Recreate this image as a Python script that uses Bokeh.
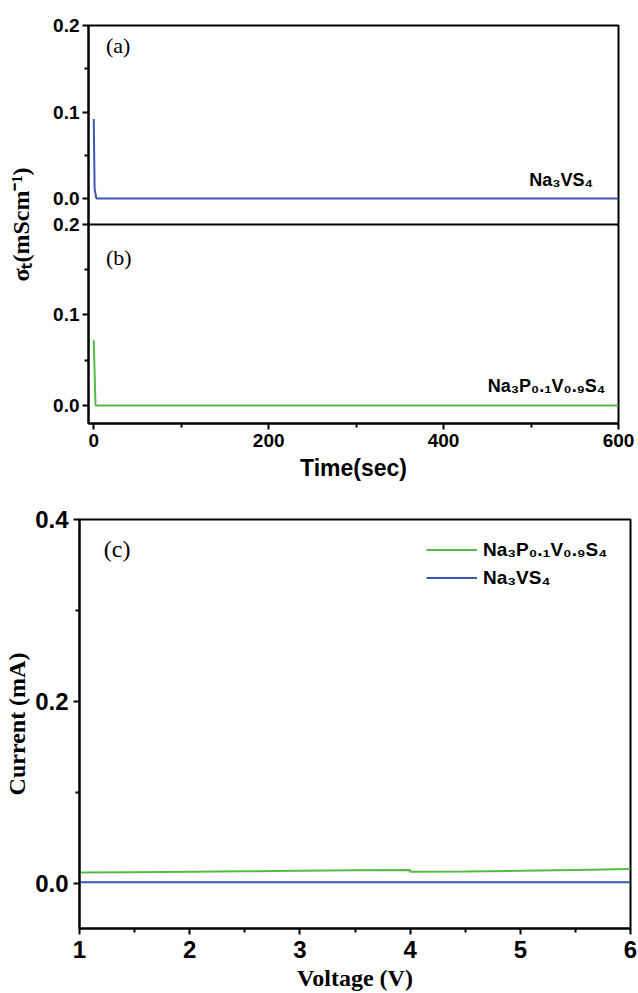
from bokeh.plotting import figure
from bokeh.models import (Range1d, FixedTicker, Span, Label, Legend,
                          LegendItem, PrintfTickFormatter)
from bokeh.layouts import column, row
from bokeh.embed import file_html
from bokeh.resources import INLINE

# ---- data -------------------------------------------------------------
# (a) transient conductivity of Na3VS4
time_a = [0, 1, 3, 600]
sigma_a = [0.092, 0.011, 0.0, 0.0]
# (b) transient conductivity of Na3P0.1V0.9S4
time_b = [0, 2, 600]
sigma_b = [0.072, 0.0, 0.0]
# (c) DC polarisation current vs voltage
volt_p = [1.0, 1.5, 2.0, 2.5, 3.0, 3.5, 4.0, 4.0, 4.5, 5.0, 5.5, 6.0]
curr_p = [0.0115, 0.0120, 0.0125, 0.0130, 0.0135, 0.0140, 0.0143, 0.0124,
          0.0128, 0.0135, 0.0145, 0.0154]
volt_v = [1.0, 2.0, 3.0, 4.0, 5.0, 6.0]
curr_v = [0.001, 0.001, 0.001, 0.001, 0.001, 0.001]

time_ticks = [0, 200, 400, 600]
time_minor = [100, 300, 500]
sigma_ticks = [0.0, 0.1, 0.2]
sigma_minor = [0.05, 0.15]
volt_ticks = [1, 2, 3, 4, 5, 6]
volt_minor = [1.5, 2.5, 3.5, 4.5, 5.5]
curr_ticks = [0.0, 0.2, 0.4]
curr_minor = [0.1, 0.3]

label_a = "Na₃VS₄"
label_b = "Na₃P₀.₁V₀.₉S₄"

BLUE = "#3d56b4"
GREEN = "#55bb46"
SANS = "Liberation Sans"
SERIF = "Liberation Serif"


def style_axes(p, tick_size):
    p.xgrid.visible = False
    p.ygrid.visible = False
    p.outline_line_color = "black"
    p.outline_line_width = 2
    p.outline_line_alpha = 1
    for ax in (p.xaxis[0], p.yaxis[0]):
        ax.axis_line_width = 2
        ax.major_tick_line_width = 2
        ax.minor_tick_line_width = 2
        ax.major_tick_out = 6
        ax.major_tick_in = 0
        ax.minor_tick_out = 4
        ax.minor_tick_in = 0
        ax.major_label_text_font = SANS
        ax.major_label_text_font_style = "bold"
        ax.major_label_text_font_size = tick_size
        ax.major_label_text_color = "black"
        ax.axis_label_text_color = "black"
        ax.axis_label_text_font_style = "bold"


# ---- panels (a) and (b): one frame, two stacked y ranges ----------------
b_lo, b_hi = -0.02, 0.42
a_lo, a_hi = -0.26, 0.2

p1 = figure(frame_width=530, frame_height=398, x_range=Range1d(-6, 600),
            y_range=Range1d(b_lo, b_hi), output_backend="svg",
            toolbar_location=None, min_border_left=88, min_border_right=20,
            min_border_top=25, min_border_bottom=67)
p1.extra_y_ranges = {"a": Range1d(a_lo, a_hi)}
style_axes(p1, "19px")

p1.line(time_a, sigma_a, y_range_name="a", line_color=BLUE, line_width=2)
p1.line(time_b, sigma_b, line_color=GREEN, line_width=2)


def a_to_main(v):
    return round(b_lo + (v - a_lo) / (a_hi - a_lo) * (b_hi - b_lo), 6)


y_major = list(sigma_ticks) + [a_to_main(v) for v in sigma_ticks]
y_minor = list(sigma_minor) + [a_to_main(v) for v in sigma_minor]
overrides = {v: f"{v:.1f}" for v in sigma_ticks}
overrides.update({a_to_main(v): f"{v:.1f}" for v in sigma_ticks})
p1.yaxis.ticker = FixedTicker(ticks=y_major, minor_ticks=y_minor)
p1.yaxis.major_label_overrides = overrides
p1.yaxis.major_label_standoff = 3
p1.xaxis.ticker = FixedTicker(ticks=time_ticks, minor_ticks=time_minor)
p1.xaxis.major_label_standoff = 4

p1.yaxis.axis_label = "σₜ(mScm⁻¹)"
p1.yaxis.axis_label_text_font = SERIF
p1.yaxis.axis_label_text_font_size = "24px"
p1.yaxis.axis_label_standoff = 16
p1.xaxis.axis_label = "Time(sec)"
p1.xaxis.axis_label_text_font = SANS
p1.xaxis.axis_label_text_font_size = "23px"
p1.xaxis.axis_label_standoff = 5

# divider between the two panels
p1.add_layout(Span(location=0.2, dimension="width", line_color="black",
                   line_width=2))

p1.add_layout(Label(x=14, y=0.177, y_range_name="a", text="(a)",
                    text_font=SERIF, text_font_size="22px",
                    text_color="black", text_baseline="middle"))
p1.add_layout(Label(x=14, y=0.163, text="(b)", text_font=SERIF,
                    text_font_size="22px", text_color="black",
                    text_baseline="middle"))
p1.add_layout(Label(x=571, y=0.022, y_range_name="a", text=label_a,
                    text_font=SANS, text_font_style="bold",
                    text_font_size="18px", text_color="black",
                    text_align="right", text_baseline="middle"))
p1.add_layout(Label(x=585, y=0.021, text=label_b, text_font=SANS,
                    text_font_style="bold", text_font_size="18px",
                    text_color="black", text_align="right",
                    text_baseline="middle"))

# ---- panel (c) ------------------------------------------------------------
p2 = figure(frame_width=551, frame_height=409, x_range=Range1d(1, 6),
            y_range=Range1d(-0.05, 0.4), output_backend="svg",
            toolbar_location=None, min_border_left=79, min_border_right=8,
            min_border_top=29, min_border_bottom=65)
style_axes(p2, "24px")

r_p = p2.line(volt_p, curr_p, line_color=GREEN, line_width=2)
r_v = p2.line(volt_v, curr_v, line_color=BLUE, line_width=2)

p2.xaxis.ticker = FixedTicker(ticks=volt_ticks, minor_ticks=volt_minor)
p2.yaxis.ticker = FixedTicker(ticks=curr_ticks, minor_ticks=curr_minor)
p2.yaxis.formatter = PrintfTickFormatter(format="%.1f")
p2.yaxis.major_label_standoff = 5
p2.xaxis.major_label_standoff = 6
p2.xaxis.axis_label = "Voltage (V)"
p2.xaxis.axis_label_text_font = SERIF
p2.xaxis.axis_label_text_font_size = "24px"
p2.xaxis.axis_label_standoff = 4
p2.yaxis.axis_label = "Current (mA)"
p2.yaxis.axis_label_text_font = SERIF
p2.yaxis.axis_label_text_font_size = "24px"
p2.yaxis.axis_label_standoff = 2

p2.add_layout(Label(x=1.22, y=0.367, text="(c)", text_font=SERIF,
                    text_font_size="24px", text_color="black",
                    text_baseline="middle"))

legend = Legend(
    items=[LegendItem(label=label_b, renderers=[r_p]),
           LegendItem(label=label_a, renderers=[r_v])],
    location=(347, 339), border_line_color=None, background_fill_alpha=0,
    glyph_width=51, glyph_height=23, label_height=23, label_standoff=6,
    padding=0, margin=0, spacing=5, label_text_font=SANS,
    label_text_color="black", label_text_font_style="bold",
    label_text_font_size="19px")
p2.add_layout(legend)

layout = column(row(p1), row(p2))
open("out.html", "w").write(file_html(layout, INLINE))
